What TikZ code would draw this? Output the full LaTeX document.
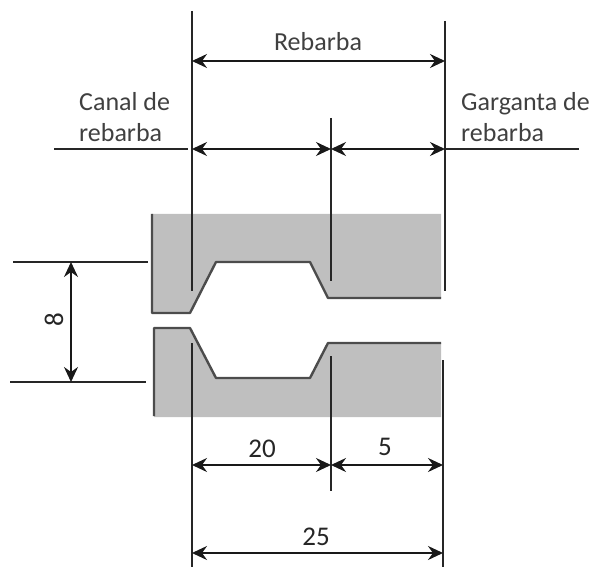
\documentclass[tikz,border=0pt]{standalone}
\usepackage{fontspec}
\setmainfont{Carlito}
\usetikzlibrary{arrows.meta}
\tikzset{
    label/.style={font=\fontsize{26}{31}\selectfont, text=black!75, inner sep=0pt},
    value/.style={font=\fontsize{27}{31}\selectfont, text=black!85, inner sep=0pt},
    leader/.style={line width=1.8pt, black!85},
    profile/.style={line width=2.4pt, black!70, line join=round},
    dimen/.style={{Stealth[length=15pt,width=14pt,inset=5pt]}-{Stealth[length=15pt,width=14pt,inset=5pt]}, line width=1.8pt, black!90},
    die/.style={fill=black!25, draw=none} }
\begin{document}
\begin{tikzpicture}[x=1pt,y=-1pt]
	\useasboundingbox (0,0) rectangle (595,567);
	% die halves
	\coordinate (UL) at (152,313);
	\coordinate (UA) at (190,313);
	\coordinate (UB) at (216,262);
	\coordinate (UC) at (310,262);
	\coordinate (UD) at (328,298);
	\coordinate (UR) at (441,298);
	\coordinate (LL) at (154,328);
	\coordinate (LA) at (190,328);
	\coordinate (LB) at (216,378);
	\coordinate (LC) at (310,378);
	\coordinate (LD) at (328,343);
	\coordinate (LR) at (441,343);
	\fill[die] (152,214) -- (441,214) -- (UR) -- (UD) -- (UC) -- (UB) -- (UA) -- (UL) -- cycle;
	\fill[die] (LL) -- (LA) -- (LB) -- (LC) -- (LD) -- (LR) -- (441,417) -- (154,417) -- cycle;
	\draw[profile] (152,214) -- (UL) -- (UA) -- (UB) -- (UC) -- (UD) -- (UR);
	\draw[profile] (154,416) -- (LL) -- (LA) -- (LB) -- (LC) -- (LD) -- (LR);
	% ----
	\coordinate (A1) at (192,11);
	\coordinate (A2) at (192,291);
	\coordinate (A3) at (192,343);
	\coordinate (A4) at (192,567);
	\coordinate (B1) at (331,118);
	\coordinate (B2) at (331,281);
	\coordinate (B3) at (331,356);
	\coordinate (B4) at (331,491);
	\coordinate (C1) at (445,21);
	\coordinate (C2) at (445,291);
	\coordinate (D1) at (443,360);
	\coordinate (D2) at (443,567);
	\draw[leader] (A1) -- (A2);
	\draw[leader] (A3) -- (A4);
	\draw[leader] (B1) -- (B2);
	\draw[leader] (B3) -- (B4);
	\draw[leader] (C1) -- (C2);
	\draw[leader] (D1) -- (D2);
	% ----
	\coordinate (E1) at (54,149);
	\coordinate (E2) at (188,149);
	\coordinate (F1) at (445,149);
	\coordinate (F2) at (579,149);
	\coordinate (G1) at (13,262);
	\coordinate (G2) at (148,262);
	\coordinate (H1) at (10,382);
	\coordinate (H2) at (146,382);
	\draw[leader] (E1) -- (E2);
	\draw[leader] (F1) -- (F2);
	\draw[leader] (G1) -- (G2);
	\draw[leader] (H1) -- (H2);
	% ----
	\draw[dimen] (192,61) -- (445,61);
	\draw[dimen] (192,149) -- (331,149);
	\draw[dimen] (331,149) -- (445,149);
	\draw[dimen] (192,465) -- (331,465);
	\draw[dimen] (331,465) -- (443,465);
	\draw[dimen] (192,553) -- (443,553);
	\draw[dimen] (71,262) -- (71,382);
	% ----
	\node[label] (REBARBA) at (318,42) {Rebarba};
	\node[label, align=left, anchor=west] (CANAL) at (79,117) {Canal de\\rebarba};
	\node[label, align=left, anchor=west] (GARGANTA) at (461,117) {Garganta de\\rebarba};
	\node[value] (TWENTY) at (262,449) {20};
	\node[value] (FIVE) at (385,447) {5};
	\node[value] (TOTAL) at (316,537) {25};
	\node[value, rotate=90] (EIGHT) at (54,320) {8};
\end{tikzpicture}
\end{document}
